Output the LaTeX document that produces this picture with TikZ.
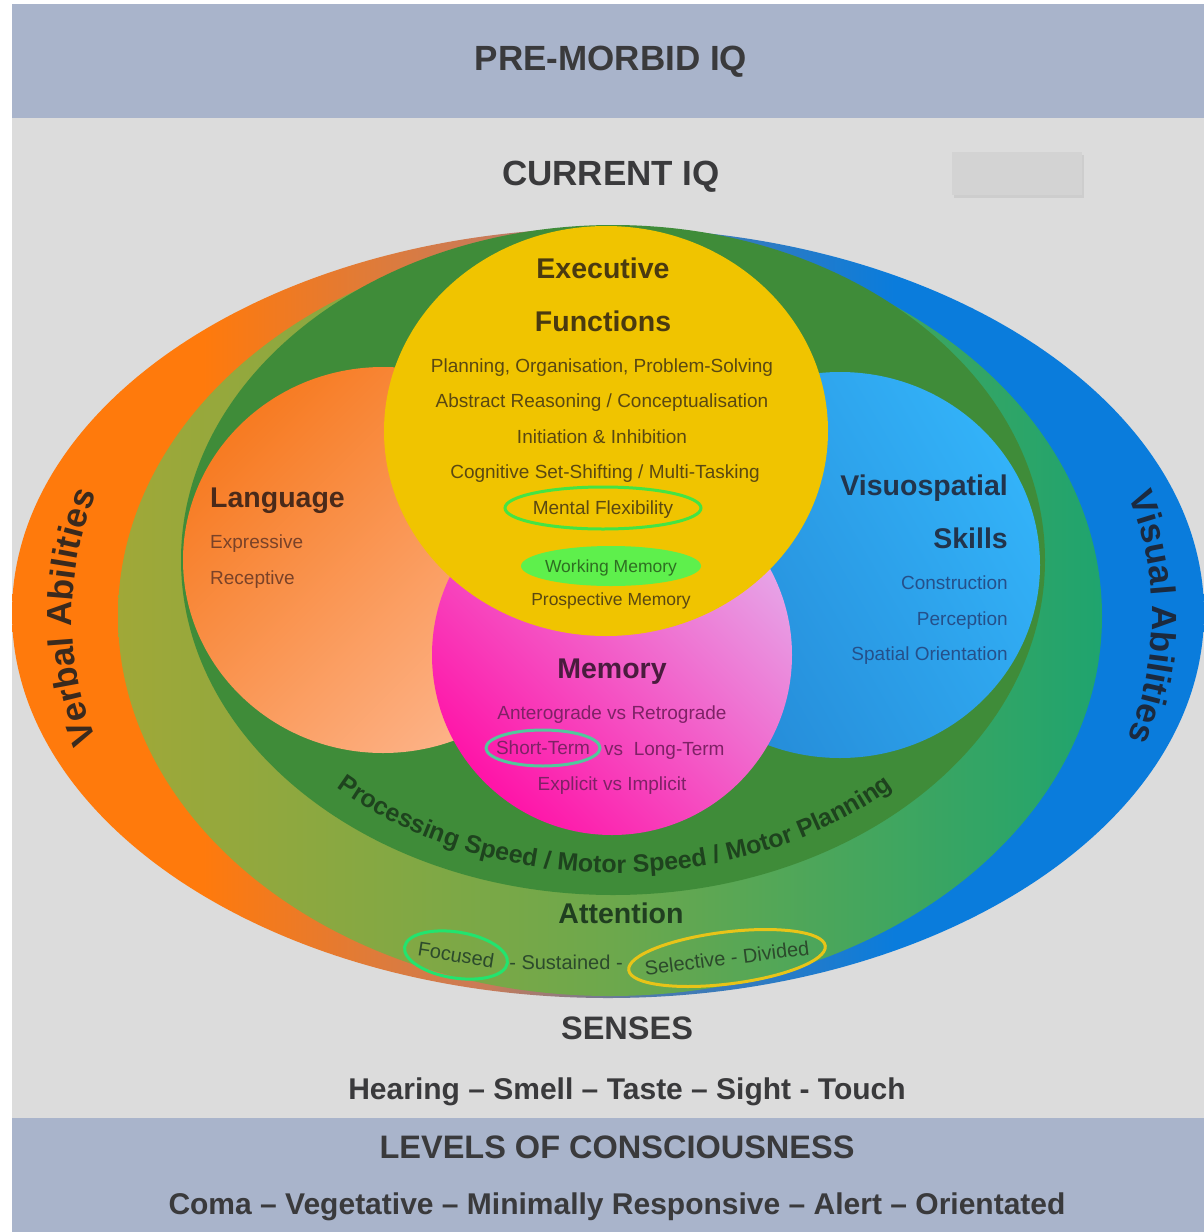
\documentclass[tikz,border=0pt]{standalone}
\usepackage{fontspec}
\setmainfont{Liberation Sans}
\usetikzlibrary{shapes.geometric,decorations.text}

\newcommand{\fsz}[1]{\fontsize{#1}{#1}\selectfont}

\definecolor{bandblue}{HTML}{A9B4CB}
\definecolor{paper}{HTML}{DCDCDC}
\definecolor{boxgray}{HTML}{D3D3D3}
\definecolor{boxshadow}{HTML}{CDCDCD}
\definecolor{titleink}{HTML}{3A3A3C}
\definecolor{orangeA}{HTML}{FF7A0C}
\definecolor{orangeB}{HTML}{C97B58}
\definecolor{blueB}{HTML}{4A7AAE}
\definecolor{blueA}{HTML}{0A7CDC}
\definecolor{attA}{HTML}{A0A838}
\definecolor{attB}{HTML}{6DA84C}
\definecolor{attC}{HTML}{1FA46E}
\definecolor{speedgreen}{HTML}{3F8C39}
\definecolor{execyellow}{HTML}{F0C400}
\definecolor{langA}{HTML}{F77B22}
\definecolor{langB}{HTML}{FDB58C}
\definecolor{visA}{HTML}{2489D6}
\definecolor{visB}{HTML}{33B2F8}
\definecolor{memA}{HTML}{FF14A8}
\definecolor{memB}{HTML}{E6A6E8}
\definecolor{execink}{HTML}{4A3A10}
\definecolor{execitem}{HTML}{5A4812}
\definecolor{workink}{HTML}{2E6E22}
\definecolor{workgreen}{HTML}{5EF04C}
\definecolor{flexgreen}{HTML}{44E444}
\definecolor{langink}{HTML}{4A2A1A}
\definecolor{langitem}{HTML}{7A4228}
\definecolor{visink}{HTML}{22344C}
\definecolor{visitem}{HTML}{25508A}
\definecolor{memink}{HTML}{4A1C3E}
\definecolor{memitem}{HTML}{7E2266}
\definecolor{shortteal}{HTML}{52C89C}
\definecolor{speedink}{HTML}{1E431E}
\definecolor{attink}{HTML}{203E20}
\definecolor{attitem}{HTML}{2C4A2C}
\definecolor{focusgreen}{HTML}{22E46E}
\definecolor{selectyellow}{HTML}{E8C418}
\definecolor{verbalink}{HTML}{3A2A1E}
\definecolor{visualink}{HTML}{1C2A3E}

% outer band: orange on the left, blue on the right
\pgfdeclarehorizontalshading{outerband}{100bp}{color(0bp)=(orangeA); color(25bp)=(orangeA);
  color(33bp)=(orangeA); color(45bp)=(orangeB); color(52bp)=(blueB); color(62bp)=(blueA);
  color(75bp)=(blueA); color(100bp)=(blueA)}

\begin{document}
\begin{tikzpicture}[x=1pt, y=-1pt,
    every node/.style={inner sep=0pt, text depth=0pt},
    banner/.style={font=\fsz{35}\bfseries, text=titleink, text height=24.5pt},
    bannerline/.style={font=\fsz{30}\bfseries, text=titleink, text height=21pt},
    head/.style={font=\fsz{28.5}\bfseries, text height=20pt},
    item/.style={font=\fsz{19}, text height=13.3pt},
    small/.style={font=\fsz{17.5}, text height=12.2pt},
    attitem/.style={font=\fsz{20}, text=attitem, text height=14pt},
    ring/.style={ellipse, draw=#1, line width=3pt, inner xsep=-40pt, inner ysep=-6pt}]
  \useasboundingbox (0,0) rectangle (1204,1232);

  % Hintergrund und Baender
  \fill[white] (0,0) rectangle (1204,1232);
  \fill[paper] (12,118) rectangle (1204,1118);
  \fill[bandblue] (12,4) rectangle (1204,118);
  \fill[bandblue] (12,1118) rectangle (1204,1232);

  % leeres Feld neben dem IQ
  \fill[boxshadow] (954,155) rectangle (1084,198);
  \fill[boxgray] (952,152) rectangle (1082,195);

  \draw (611,58) node[banner] (PreMorbid) {PRE-MORBID IQ};
  \draw (611,173) node[banner] (CurrentIQ) {CURRENT IQ};

  % Ringe
  \shade[shading=outerband] (608,613) ellipse [x radius=596, y radius=385];
  \shade[left color=attA, right color=attC, middle color=attB] (610,616) ellipse [x radius=492, y radius=380];
  \fill[speedgreen] (613,560) ellipse [x radius=432, y radius=335];

  % Bereiche
  \shade[left color=langA, right color=langB, shading angle=45] (383,560) ellipse [x radius=200, y radius=193];
  \shade[left color=visA, right color=visB, shading angle=120] (840,565) ellipse [x radius=200, y radius=193];
  \shade[left color=memA, right color=memB, shading angle=135] (612,655) circle [radius=180];
  \fill[execyellow] (606,431) ellipse [x radius=222, y radius=205];

  % Beschriftung entlang der Ringe
  \path[decorate, decoration={text along path, text align=center,
      text={|\fsz{35}\bfseries\color{verbalink}|Verbal Abilities}}]
    ([shift={(150:503 and 400)}]575,617) arc[start angle=150, end angle=210, x radius=503, y radius=400];
  \path[decorate, decoration={text along path, text align=center,
      text={|\fsz{35}\bfseries\color{visualink}|Visual Abilities}}]
    ([shift={(-30:507 and 400)}]645,617) arc[start angle=-30, end angle=30, x radius=507, y radius=400];
  \path[decorate, decoration={text along path, text align=center,
      text={|\fsz{25}\bfseries\color{speedink}|Processing Speed / Motor Speed / Motor Planning}}]
    ([shift={(140:406 and 313)}]615,560) arc[start angle=140, end angle=40, x radius=406, y radius=313];

  % Executive Functions
  \draw (603,268) node[head, text=execink] (ExecTitle) {Executive};
  \draw (603,321) node[head, text=execink] (ExecTitleB) {Functions};
  \draw (602,366) node[item, text=execitem] (Planning) {Planning, Organisation, Problem-Solving};
  \draw (602,401) node[item, text=execitem] (Abstract) {Abstract Reasoning / Conceptualisation};
  \draw (602,437) node[item, text=execitem] (Initiation) {Initiation \& Inhibition};
  \draw (605,472) node[item, text=execitem] (Shifting) {Cognitive Set-Shifting / Multi-Tasking};
  \draw (603,508) node[item, text=execitem, ring=flexgreen, minimum width=196pt, minimum height=42pt] (Flexibility) {Mental Flexibility};
  \draw (611,566) node[small, text=workink, ellipse, fill=workgreen, inner xsep=-40pt, minimum width=180pt, minimum height=40pt] (Working) {Working Memory};
  \draw (611,599) node[small, text=execitem] (Prospective) {Prospective Memory};

  % Language
  \draw (210,497) node[head, anchor=west, text=langink] (LangTitle) {Language};
  \draw (210,542) node[item, anchor=west, text=langitem] (Expressive) {Expressive};
  \draw (210,578) node[item, anchor=west, text=langitem] (Receptive) {Receptive};

  % Visuospatial Skills
  \draw (1008,485) node[head, anchor=east, text=visink] (VisTitle) {Visuospatial};
  \draw (1008,538) node[head, anchor=east, text=visink] (VisTitleB) {Skills};
  \draw (1008,583) node[item, anchor=east, text=visitem] (Construction) {Construction};
  \draw (1008,619) node[item, anchor=east, text=visitem] (Perception) {Perception};
  \draw (1008,654) node[item, anchor=east, text=visitem] (Spatial) {Spatial Orientation};

  % Memory
  \draw (612,668) node[head, text=memink] (MemTitle) {Memory};
  \draw (612,713) node[item, text=memitem] (Antero) {Anterograde vs Retrograde};
  \draw (543,748) node[item, text=memitem, ring=shortteal, minimum width=114pt, minimum height=36pt] (ShortTerm) {Short-Term};
  \draw (604,749) node[item, anchor=west, text=memitem] (LongTerm) {vs\ \ Long-Term};
  \draw (612,784) node[item, text=memitem] (Explicit) {Explicit vs Implicit};

  % Attention
  \draw (621,913) node[head, text=attink] (AttTitle) {Attention};
  \draw (456,955) node[attitem, rotate=-9, ring=focusgreen, minimum width=104pt, minimum height=46pt] (Focused) {Focused};
  \draw (566,962) node[attitem] (Sustained) {- Sustained -};
  \draw (727,958) node[attitem, rotate=7, ring=selectyellow, minimum width=198pt, minimum height=52pt] (Selective) {Selective - Divided};

  % Sinne und Bewusstsein
  \draw (627,1028) node[banner, font=\fsz{32.5}\bfseries, text height=22.7pt] (Senses) {SENSES};
  \draw (627,1089) node[bannerline] (SenseList) {Hearing -- Smell -- Taste -- Sight - Touch};
  \draw (617,1147) node[banner, font=\fsz{32.5}\bfseries, text height=22.7pt] (Levels) {LEVELS OF CONSCIOUSNESS};
  \draw (617,1204) node[bannerline] (LevelList) {Coma -- Vegetative -- Minimally Responsive -- Alert -- Orientated};
\end{tikzpicture}
\end{document}
